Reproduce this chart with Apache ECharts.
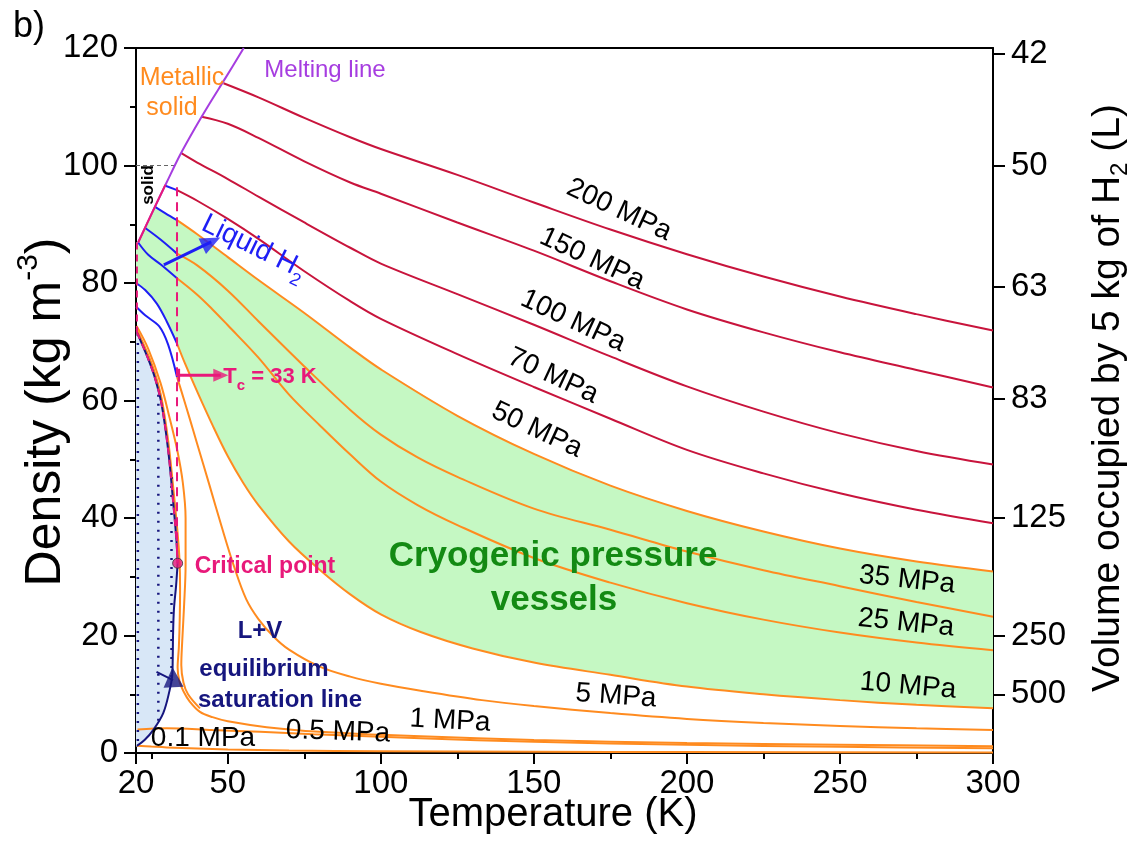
<!DOCTYPE html>
<html><head><meta charset="utf-8">
<script src="https://cdn.jsdelivr.net/npm/echarts@6/dist/echarts.min.js"></script>
<style>html,body{margin:0;padding:0;background:#fff}#c{width:1141px;height:844px}</style>
</head><body><div id="c"></div>
<script>
// ---------- tick labels ----------
const xLabelTicks = [20, 50, 100, 150, 200, 250, 300];
const xMinorTicks = [25, 75, 125, 175, 225, 275];
const volumeTicks = [42, 50, 63, 83, 125, 250, 500];   // litres occupied by 5 kg of H2
const H2_MASS_KG = 5;

// ---------- curves  [T (K), density (kg m-3)] ----------
const meltingLine = [[20.7,86.9],[25.2,91.9],[30,97.1],[34.3,101.7],[39.2,106.3],[44.1,110.6],[49,114.7],[55.2,120]];
const meltingLow  = [[20.7,86.9],[25.2,91.9],[29.6,96.7]];
const solidLine   = [[20,100],[32.6,100]];
const satLiquid   = [[20.3,71.6],[22.3,69.2],[24.2,66.8],[26.1,64.0],[28.3,59.5],[30.5,51.6],[32.1,43.0],[33.2,36.3],[33.6,32.3]];
const satVapor    = [[33.6,32.3],[33.1,28.5],[32.4,24.5],[32.1,20],[32.0,16],[31.8,13],[31.0,10.7],[28.9,6.8],[25.6,3.9],[22.8,2.2],[20.3,1.2]];
const criticalPoint = [33.6, 32.3];
const tcLine      = [[33.4,96.3],[33.4,32.3]];
const tripleLine  = [[20.3,86.9],[20.3,71.6]];

const p200 = [[48.6,114.0],[60,111.6],[75,108.1],[90,104.8],[100,102.8],[125,98.4],[150,93.7],[175,89.1],[200,84.9],[225,81.1],[250,77.7],[275,74.7],[300,71.9]];
const p150 = [[41.4,108.3],[50,107.1],[60,104.7],[75,100.7],[90,97.1],[100,95.2],[125,90.3],[150,85.5],[175,80.3],[200,75.5],[225,71.6],[250,68.2],[275,65.2],[300,62.2]];
const p100 = [[34.8,102.1],[40,100.5],[50,97.7],[60,94.7],[75,90.3],[90,86.0],[100,83.3],[125,78.1],[150,72.9],[175,67.5],[200,62.4],[225,58.1],[250,54.4],[275,51.4],[300,49.1]];
const p70Liq = [[29.4,96.6],[33.4,95.8]];
const p70  = [[33.4,95.8],[40,94.0],[50,90.9],[60,87.5],[75,82.0],[90,76.9],[100,73.9],[125,67.9],[150,62.3],[175,56.9],[200,51.6],[225,47.6],[250,44.2],[275,41.4],[300,39.1]];
const p50Liq = [[26.1,93.0],[29.5,91.9],[33.4,90.7]];
const p50  = [[33.4,90.7],[40,88.3],[50,84.4],[60,80.5],[75,74.9],[90,69.0],[100,65.3],[125,57.4],[150,50.9],[175,45.5],[200,41.2],[225,37.7],[250,34.8],[275,32.6],[300,30.9]];
const p35Liq = [[22.9,89.4],[28,87.4],[33.4,85.0]];
const p35  = [[33.4,85.0],[40,83.0],[50,78.7],[60,73.5],[75,65.8],[90,58.4],[100,54.2],[112,50.3],[125,47.0],[150,41.6],[175,38.0],[200,34.3],[225,31.1],[250,28.4],[275,25.7],[300,23.2]];
const p25Liq = [[20.7,86.9],[24,84.8],[28.2,83.1],[33.4,80.8]];
const p25  = [[33.4,80.8],[40,78.0],[45,75.5],[50,72.8],[60,67.3],[70,61.0],[80,55.8],[90,50.8],[100,46.2],[112,42.2],[125,38.8],[150,33.2],[175,29.0],[200,25.5],[225,22.7],[250,20.5],[275,18.8],[300,17.5]];
const p10Liq = [[20,80.0],[23,78.8],[26.8,76.5],[30,73.5],[33.4,69.7]];
const p10  = [[33.4,69.7],[36,66.3],[40,61.5],[45,55.8],[50,50.5],[55,46.0],[60,42.2],[70,36.0],[80,31.2],[90,27.0],[100,23.6],[113,20.6],[130,17.8],[150,15.4],[175,13.3],[200,11.3],[225,10.0],[250,9.0],[275,8.2],[300,7.6]];
const p5Liq = [[20,76.0],[23,74.5],[27.6,72.6],[30.5,69.5],[33.4,64.0]];
const p5   = [[33.4,64.0],[35,61.3],[37.5,57.0],[40,52.6],[44,45.6],[48,38.5],[52,31.8],[56,26.2],[60,22.8],[65,19.8],[70,17.6],[80,14.7],[90,13.0],[100,11.8],[113,10.6],[133,9.0],[150,8.0],[175,6.8],[200,5.8],[225,5.1],[250,4.6],[275,4.2],[300,3.9]];
const pNearCritA = [[20.2,72.2],[22.3,69.8],[24.2,67.5],[26.1,64.8],[28.3,60.5],[30.5,53.2],[32.2,45.0],[33.5,38.0],[34.2,33.0],[34.4,28.0],[34.3,23.0],[34.0,18.0],[33.6,14.5],[34.2,12.2],[35.5,10.5],[37.5,8.8],[40.9,7.0],[45,6.1],[50,5.4],[62.7,4.4],[80,3.6],[100,3.1],[113,2.85],[150,2.2],[200,1.7],[250,1.4],[300,1.15]];
const pNearCritB = [[20.2,72.7],[24,68.8],[28,63.0],[31,57.0],[33.5,51.5],[35.3,46.0],[36.2,40.0],[36.2,32.0],[35.7,25.0],[35.1,19.0],[34.8,15.0],[35.5,12.0],[37,10.0],[40.9,7.6]];
const p05 = [[20.5,4.0],[30,4.2],[45,3.9],[60.5,3.6],[78,3.2],[113,2.5],[150,1.9],[200,1.4],[250,1.05],[300,0.8]];
const p01 = [[20.3,1.25],[25,1.1],[30,0.95],[40,0.75],[50,0.6],[70,0.42],[100,0.3],[150,0.2],[200,0.15],[300,0.1]];
const twoPhase01 = [[20.6,71.3],[20.6,1.3]];
const twoPhase05 = [[27.3,61.0],[27.3,5.2]];
const twoPhase1  = [[31.6,47.0],[31.6,12.6]];
const liquidArrow = [[29.1,83.1],[44.6,87.0]];
const tcArrow     = [[34.0,64.3],[47.7,64.3]];
const tcBar       = [[34.0,63.2],[34.0,65.4]];
const satArrowHead = [32.1,12.9];
const satArrowTail = [[26.7,13.8],[32.1,12.4]];

// ---------- styles ----------
const FONT = '"Liberation Sans", Arial, Helvetica, sans-serif';
const RED = '#c8143c', ORANGE = '#ff8b1f', BLUE = '#1e1ef5', NAVY = '#16167e', PINK = '#e8197a', PURPLE = '#a63de0';
const GREEN_FILL = '#c5f8c3', BLUE_FILL = '#d8e7f7';

const chart = echarts.init(document.getElementById('c'), null, {renderer: 'canvas'});

function ln(data, color, extra) {
  return Object.assign({type: 'line', data: data, xAxisIndex: 0, yAxisIndex: 0, symbol: 'none', showSymbol: false,
    smooth: 0.35, silent: true, animation: false, z: 3,
    lineStyle: {color: color, width: 2}}, extra || {});
}
function poly(data, color, z) {
  return {type: 'custom', coordinateSystem: 'cartesian2d', xAxisIndex: 0, yAxisIndex: 0, silent: true, animation: false, z: z,
    data: data,
    renderItem: function (params, api) {
      if (params.dataIndex !== 0) return null;
      return {type: 'polygon', shape: {points: data.map(p => api.coord(p))}, style: {fill: color, stroke: null}};
    }};
}

const greenPoly = [].concat(p50Liq, p50.slice(1), p10.slice().reverse(), p10Liq.slice().reverse(), [[20, 86.9]], [[20.7,86.9],[23,89.4]]);
const bluePoly  = [].concat(satLiquid, satVapor.slice(1), [[20, 1.0], [20, 71.6]]);

const ctx = document.createElement('canvas').getContext('2d');
function tw(t, s, w) { ctx.font = (w || 'normal') + ' ' + s + 'px ' + FONT; return ctx.measureText(t).width; }
function run(cx, cy, rotDeg, pieces, fill, weight) {
  weight = weight || 'normal';
  const total = pieces.reduce((a, p) => a + tw(p.t, p.s, weight), 0);
  let x = -total / 2; const children = [];
  pieces.forEach(p => {
    children.push({type: 'text', x: x, y: p.dy || 0, z: 100, silent: true,
      style: {text: p.t, fontSize: p.s, fontWeight: weight, fontFamily: FONT, fill: fill, align: 'left', verticalAlign: 'middle'}});
    x += tw(p.t, p.s, weight);
  });
  return {type: 'group', x: cx, y: cy, rotation: rotDeg * Math.PI / 180, children: children, z: 100, silent: true};
}
function txt(cx, cy, rot, t, s, fill, weight) { return run(cx, cy, rot, [{t: t, s: s}], fill, weight); }

const axisLineStyle = {color: '#000', width: 2};
const labelStyle = {fontSize: 33, color: '#000', fontFamily: FONT};

const arrowDefs = [
  {id: 'ahLiq', seg: liquidArrow, color: BLUE, size: [17, 20]},
  {id: 'ahTc', seg: tcArrow, color: PINK, size: [13, 15]}
];

const option = {
  animation: false,
  backgroundColor: '#fff',
  grid: {left: 136, right: 148, top: 48, bottom: 91},
  xAxis: [
    {type: 'value', min: 20, max: 300, position: 'bottom', splitLine: {show: false},
     axisLine: {lineStyle: axisLineStyle},
     axisTick: {customValues: xLabelTicks, length: 11, lineStyle: axisLineStyle},
     axisLabel: Object.assign({customValues: xLabelTicks, margin: 14}, labelStyle)},
    {type: 'value', min: 20, max: 300, position: 'bottom', splitLine: {show: false},
     axisLine: {show: false},
     axisTick: {customValues: xMinorTicks, length: 6, lineStyle: axisLineStyle},
     axisLabel: {show: false}},
    {type: 'value', min: 20, max: 300, position: 'top', splitLine: {show: false},
     axisLine: {lineStyle: axisLineStyle}, axisTick: {show: false}, axisLabel: {show: false}}
  ],
  yAxis: [
    {type: 'value', min: 0, max: 120, interval: 20, position: 'left', splitLine: {show: false},
     axisLine: {lineStyle: axisLineStyle},
     axisTick: {length: 12, lineStyle: axisLineStyle},
     minorTick: {show: true, splitNumber: 2, length: 6, lineStyle: axisLineStyle},
     axisLabel: Object.assign({margin: 18}, labelStyle)},
    {type: 'value', min: 0, max: 120, position: 'right', splitLine: {show: false},
     axisLine: {lineStyle: axisLineStyle},
     axisTick: {customValues: volumeTicks.map(v => H2_MASS_KG * 1000 / v), length: 12, lineStyle: axisLineStyle},
     axisLabel: Object.assign({customValues: volumeTicks.map(v => H2_MASS_KG * 1000 / v), margin: 18,
        formatter: v => String(Math.round(H2_MASS_KG * 1000 / v))}, labelStyle)}
  ],
  series: [
    poly(greenPoly, GREEN_FILL, 1),
    poly(bluePoly, BLUE_FILL, 1),
    ln(solidLine, '#666', {smooth: false, lineStyle: {color: '#666', width: 1.2, type: [4, 3]}}),
    ln(p200, RED), ln(p150, RED), ln(p100, RED), ln(p70, RED),
    ln(p50, ORANGE), ln(p35, ORANGE), ln(p25, ORANGE), ln(p10, ORANGE), ln(p5, ORANGE),
    ln(pNearCritB, ORANGE), ln(pNearCritA, ORANGE), ln(p05, ORANGE), ln(p01, ORANGE),
    ln(p70Liq, BLUE), ln(p50Liq, BLUE), ln(p35Liq, BLUE), ln(p25Liq, BLUE), ln(p10Liq, BLUE), ln(p5Liq, BLUE),
    ln(twoPhase01, NAVY, {smooth: false, lineStyle: {color: NAVY, width: 2.5, type: [2, 7]}}),
    ln(twoPhase05, NAVY, {smooth: false, lineStyle: {color: NAVY, width: 2.5, type: [2, 7]}}),
    ln(twoPhase1, NAVY, {smooth: false, lineStyle: {color: NAVY, width: 2.5, type: [2, 7]}}),
    ln(satLiquid, NAVY, {z: 4}), ln(satVapor, NAVY, {z: 4}),
    ln(satLiquid, PINK, {z: 5, lineStyle: {color: PINK, width: 2, type: [7, 5]}}),
    ln(tripleLine, PINK, {z: 5, smooth: false, lineStyle: {color: PINK, width: 2, type: [7, 5]}}),
    ln(tcLine, PINK, {z: 5, smooth: false, lineStyle: {color: PINK, width: 2, type: [9, 6]}}),
    ln(meltingLine, PURPLE, {z: 6, smooth: 0.3}),
    ln(meltingLow, PINK, {z: 6, smooth: 0.3}),
    ln(satArrowTail, NAVY, {z: 6, smooth: false}),
    ln(tcBar, PINK, {z: 6, smooth: false, lineStyle: {color: PINK, width: 2.5}}),
    ln(liquidArrow, BLUE, {z: 7, smooth: false, lineStyle: {color: BLUE, width: 3}}),
    ln(tcArrow, PINK, {z: 7, smooth: false, lineStyle: {color: PINK, width: 3}}),
  ].concat(arrowDefs.map(a => ({id: a.id, type: 'scatter', data: [a.seg[1]], symbol: 'triangle', symbolSize: a.size,
      silent: true, z: 8, itemStyle: {color: a.color}}))).concat([
    {type: 'scatter', data: [satArrowHead], symbol: 'triangle', symbolSize: [20, 20], symbolRotate: 3, silent: true, z: 8,
     itemStyle: {color: NAVY}},
    {type: 'scatter', data: [criticalPoint], symbol: 'circle', symbolSize: 10, silent: true, z: 9,
     itemStyle: {color: PINK, borderColor: '#333', borderWidth: 1}}
  ]),
  graphic: {elements: [
    txt(29, 27, 0, 'b)', 36, '#000'),
    txt(553, 815, 0, 'Temperature (K)', 40, '#000'),
    run(46, 412, 90, [{t: 'Density (kg m', s: 50}, {t: '-3', s: 30, dy: -17}, {t: ')', s: 50}], '#000'),
    run(1108, 398, 90, [{t: 'Volume occupied by 5 kg of H', s: 39}, {t: '2', s: 24, dy: 12}, {t: ' (L)', s: 39}], '#000'),
    txt(182, 78, 0, 'Metallic', 25, ORANGE),
    txt(172, 108, 0, 'solid', 25, ORANGE),
    txt(325, 70, 0, 'Melting line', 24, PURPLE),
    txt(148.5, 185, 90, 'solid', 17, '#000', 'bold'),
    run(254, 247, -26, [{t: 'Liquid H', s: 28}, {t: '2', s: 18, dy: 12}], BLUE),
    run(270, 377, 0, [{t: 'T', s: 22}, {t: 'c', s: 15, dy: 9}, {t: ' = 33 K', s: 22}], PINK, 'bold'),
    txt(265, 567, 0, 'Critical point', 23, PINK, 'bold'),
    txt(260, 631, 0, 'L+V', 24, NAVY, 'bold'),
    txt(264, 669, 0, 'equilibrium', 24, NAVY, 'bold'),
    txt(280, 700, 0, 'saturation line', 24, NAVY, 'bold'),
    txt(553, 556, 0, 'Cryogenic pressure', 35, '#138a13', 'bold'),
    txt(554, 600, 0, 'vessels', 35, '#138a13', 'bold'),
    txt(619, 210, -25, '200 MPa', 28, '#000'),
    txt(592, 259, -25, '150 MPa', 28, '#000'),
    txt(573, 321, -25, '100 MPa', 28, '#000'),
    txt(553, 376, -25, '70 MPa', 28, '#000'),
    txt(537, 430, -25, '50 MPa', 28, '#000'),
    txt(907, 580, -6, '35 MPa', 28, '#000'),
    txt(906, 623, -6, '25 MPa', 28, '#000'),
    txt(908, 686, -5, '10 MPa', 28, '#000'),
    txt(616, 696, -4, '5 MPa', 28, '#000'),
    txt(450, 721, -3, '1 MPa', 28, '#000'),
    txt(338, 732, -2, '0.5 MPa', 28, '#000'),
    txt(203, 738, 0, '0.1 MPa', 28, '#000')
  ]}
};
chart.setOption(option);

// orient arrowheads along their shafts, using the chart's own scales
const rotUpdates = arrowDefs.map(a => {
  const p0 = chart.convertToPixel({gridIndex: 0}, a.seg[0]);
  const p1 = chart.convertToPixel({gridIndex: 0}, a.seg[1]);
  const ang = Math.atan2(-(p1[1] - p0[1]), p1[0] - p0[0]) * 180 / Math.PI;
  return {id: a.id, symbolRotate: ang - 90};
});
chart.setOption({series: rotUpdates});
</script></body></html>
